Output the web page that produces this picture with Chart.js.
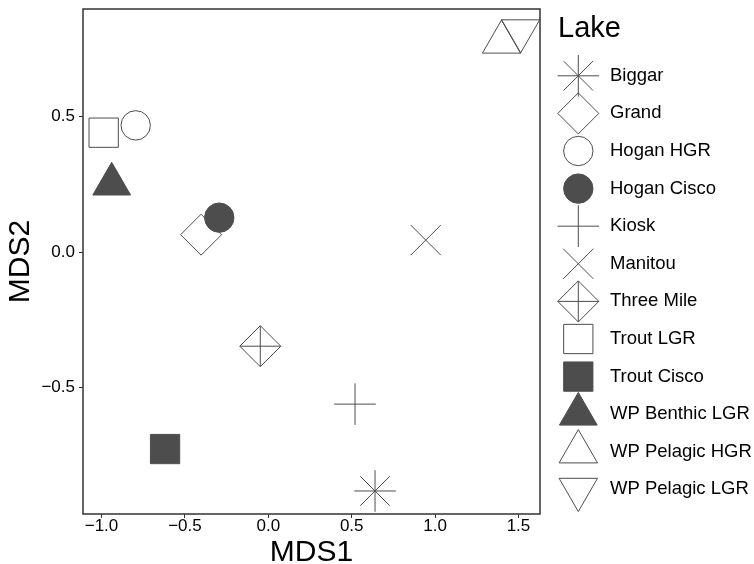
<!DOCTYPE html>
<html>
<head>
<meta charset="utf-8">
<script src="https://cdn.jsdelivr.net/npm/chart.js@4/dist/chart.umd.min.js"></script>
<style>
  html, body { margin: 0; padding: 0; background: #fff; }
  #wrap { width: 754px; height: 564px; }
</style>
</head>
<body>
<div id="wrap"><canvas id="chart" width="754" height="564"></canvas></div>
<script>
// NMDS scores per lake
const lakes = ['Biggar', 'Grand', 'Hogan HGR', 'Hogan Cisco', 'Kiosk', 'Manitou', 'Three Mile',
    'Trout LGR', 'Trout Cisco', 'WP Benthic LGR', 'WP Pelagic HGR', 'WP Pelagic LGR'];
const mds1 = [0.640, -0.403, -0.795, -0.294, 0.520, 0.944, -0.048, -0.987, -0.619, -0.939, 1.399, 1.512];
const mds2 = [-0.883, 0.064, 0.468, 0.127, -0.562, 0.044, -0.348, 0.441, -0.728, 0.251, 0.776, 0.817];
const xTicks = [-1.0, -0.5, 0.0, 0.5, 1.0, 1.5];
const yTicks = [-0.5, 0.0, 0.5];

const FONT = '"Liberation Sans", Arial, Helvetica, sans-serif';
const INK = '#4d4d4d';
const NONE = 'rgba(0,0,0,0)';

// shape of each lake's symbol (Three Mile is a diamond with a plus inside)
const markers = [
    [{style: 'star', r: 20.8, fill: NONE}],
    [{style: 'rectRot', r: 20.5, fill: NONE}],
    [{style: 'circle', r: 14.7, fill: NONE}],
    [{style: 'circle', r: 14.7, fill: INK}],
    [{style: 'cross', r: 20.8, fill: NONE}],
    [{style: 'crossRot', r: 21.3, fill: NONE}],
    [{style: 'rectRot', r: 20.5, fill: NONE}, {style: 'cross', r: 20.5, fill: NONE}],
    [{style: 'rect', r: 20.7, fill: NONE}],
    [{style: 'rect', r: 20.7, fill: INK}],
    [{style: 'triangle', r: 21.8, fill: INK}],
    [{style: 'triangle', r: 22.2, fill: NONE}],
    [{style: 'triangle', r: 22.2, fill: NONE, rot: 180}]
];

const fmt = v => (v < 0 ? '\u2212' : '') + Math.abs(v).toFixed(1);

const datasets = [];
lakes.forEach((name, i) => {
    markers[i].forEach(m => {
        datasets.push({
            label: name,
            data: [{x: mds1[i], y: mds2[i]}],
            pointStyle: m.style,
            pointRadius: m.r,
            pointHoverRadius: m.r,
            pointRotation: m.rot || 0,
            backgroundColor: m.fill,
            borderColor: INK,
            borderWidth: 1,
            pointHoverBorderWidth: 1,
            clip: false
        });
    });
});

const panelBorder = {
    id: 'panelBorder',
    afterDatasetsDraw(chart) {
        const {ctx, chartArea: a} = chart;
        ctx.save();
        ctx.strokeStyle = '#333333';
        ctx.lineWidth = 1.5;
        ctx.strokeRect(a.left, a.top, a.right - a.left, a.bottom - a.top);
        ctx.restore();
    }
};

// ggplot-style legend: title, then one row per lake
const lakeLegend = {
    id: 'lakeLegend',
    afterDraw(chart) {
        const ctx = chart.ctx;
        ctx.save();
        ctx.fillStyle = '#000';
        ctx.textAlign = 'left';
        ctx.textBaseline = 'alphabetic';
        ctx.font = '29px ' + FONT;
        ctx.fillText('Lake', 558, 37);
        ctx.font = '18.5px ' + FONT;
        ctx.textBaseline = 'middle';
        lakes.forEach((name, i) => {
            const y = 75.8 + i * 37.6;
            markers[i].forEach(m => {
                ctx.save();
                ctx.strokeStyle = INK;
                ctx.fillStyle = m.fill;
                ctx.lineWidth = 1;
                Chart.helpers.drawPoint(ctx, {pointStyle: m.style, radius: m.r, rotation: m.rot || 0, borderWidth: 1}, 578.3, y);
                ctx.restore();
            });
            ctx.fillStyle = '#000';
            ctx.fillText(name, 610, y);
        });
        ctx.restore();
    }
};

new Chart(document.getElementById('chart').getContext('2d'), {
    type: 'scatter',
    data: {datasets: datasets},
    options: {
        responsive: false,
        animation: false,
        devicePixelRatio: 1,
        layout: {autoPadding: false, padding: {left: 0, top: 9, right: 214, bottom: 0}},
        plugins: {
            legend: {display: false},
            tooltip: {enabled: false}
        },
        scales: {
            x: {
                type: 'linear',
                position: 'bottom',
                min: -1.111,
                max: 1.629,
                afterBuildTicks: s => { s.ticks = xTicks.map(v => ({value: v})); },
                afterFit: s => { s.height = 50; s.paddingLeft = 0; s.paddingRight = 0; },
                grid: {drawOnChartArea: false, drawTicks: true, tickLength: 4, color: '#333333', lineWidth: 1},
                border: {display: false},
                ticks: {
                    color: '#000',
                    padding: 0,
                    maxRotation: 0,
                    font: {family: FONT, size: 17, lineHeight: 1},
                    callback: v => fmt(v)
                },
                title: {
                    display: true,
                    text: 'MDS1',
                    color: '#000',
                    padding: 0,
                    font: {family: FONT, size: 30, lineHeight: 0.75}
                }
            },
            y: {
                type: 'linear',
                position: 'left',
                min: -0.968,
                max: 0.898,
                afterBuildTicks: s => { s.ticks = yTicks.map(v => ({value: v})); },
                afterFit: s => { s.width = 83; s.paddingTop = 0; s.paddingBottom = 0; },
                grid: {drawOnChartArea: false, drawTicks: true, tickLength: 4, color: '#333333', lineWidth: 1},
                border: {display: false},
                ticks: {
                    color: '#000',
                    padding: 4,
                    font: {family: FONT, size: 17, lineHeight: 1},
                    callback: v => fmt(v)
                },
                title: {
                    display: true,
                    text: 'MDS2',
                    color: '#000',
                    padding: {top: 7.5, bottom: 0},
                    font: {family: FONT, size: 30, lineHeight: 0.9}
                }
            }
        }
    },
    plugins: [panelBorder, lakeLegend]
});
</script>
</body>
</html>
